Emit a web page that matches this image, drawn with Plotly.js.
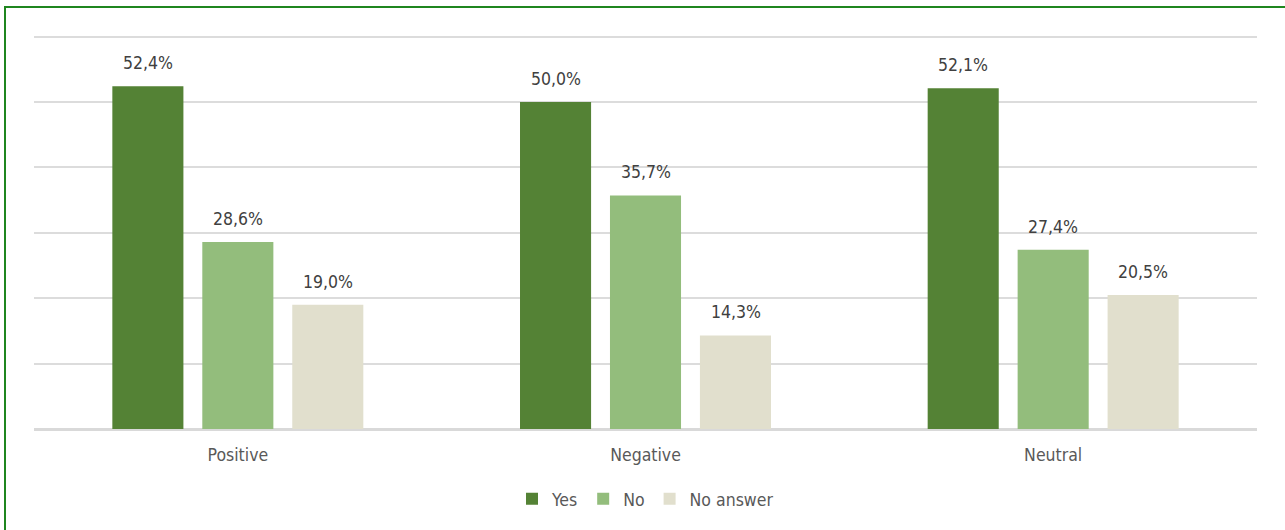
<!DOCTYPE html>
<html>
<head>
<meta charset="utf-8">
<script src="https://cdn.plot.ly/plotly-3.0.1.min.js"></script>
<style>
  html, body { margin: 0; padding: 0; background: #fff; overflow: hidden; }
  #chart { width: 1285px; height: 530px; position: absolute; left: 0; top: 0; }
  #frame { position: absolute; left: 4px; top: 6px; width: 1400px; height: 600px;
           border-left: 2px solid #1f861f; border-top: 2px solid #1f861f; pointer-events: none; }
</style>
</head>
<body>
<div id="chart"></div>
<div id="frame"></div>
<script>
const categories = ["Positive", "Negative", "Neutral"];
const seriesNames = ["Yes", "No", "No answer"];
const yesValues = [52.4, 50.0, 52.1];
const noValues = [28.6, 35.7, 27.4];
const noAnswerValues = [19.0, 14.3, 20.5];
const colors = ["#548235", "#93bd7c", "#e1dfcd"];
const gridValues = [0, 10, 20, 30, 40, 50, 60];

const FONT = "'DejaVu Sans Condensed', 'DejaVu Sans', sans-serif";
const allValues = [yesValues, noValues, noAnswerValues];
const traces = allValues.map((vals, i) => ({
  type: "bar",
  name: seriesNames[i],
  x: categories,
  y: vals,
  marker: { color: colors[i] },
  hoverinfo: "skip"
}));

const barPitch = 90;
const annotations = [];
allValues.forEach((vals, i) => {
  vals.forEach((v, j) => {
    annotations.push({
      x: categories[j],
      y: v,
      xref: "x",
      yref: "y",
      text: v.toFixed(1).replace(".", ",") + "%",
      showarrow: false,
      xanchor: "center",
      yanchor: "bottom",
      xshift: (i - 1) * barPitch,
      yshift: 11,
      font: { family: FONT, size: 17.5, color: "#404040" }
    });
  });
});

const layout = {
  width: 1285,
  height: 530,
  separators: ",.",
  margin: { l: 33.5, r: 27.5, t: 30, b: 101 },
  paper_bgcolor: "#ffffff",
  plot_bgcolor: "#ffffff",
  barmode: "group",
  bargap: 0.338,
  bargroupgap: 0.21,
  font: { family: FONT, size: 17.5, color: "#595959" },
  annotations: annotations,
  xaxis: {
    type: "category",
    showgrid: false,
    showline: true,
    linecolor: "#d9d9d9",
    linewidth: 2,
    ticks: "",
    tickfont: { family: FONT, size: 17.5, color: "#595959" },
    ticklabelstandoff: 9
  },
  yaxis: {
    range: [0, 61],
    tickvals: gridValues,
    showticklabels: false,
    showgrid: true,
    gridcolor: "#dcdcdc",
    gridwidth: 2,
    zeroline: true,
    zerolinecolor: "#d9d9d9",
    zerolinewidth: 2,
    fixedrange: true
  },
  showlegend: true,
  legend: {
    orientation: "h",
    x: 0.5,
    xanchor: "center",
    y: -0.175,
    yanchor: "middle",
    font: { family: FONT, size: 17.5, color: "#595959" },
    traceorder: "normal"
  }
};

Plotly.newPlot("chart", traces, layout, { displayModeBar: false, staticPlot: true });
</script>
</body>
</html>
